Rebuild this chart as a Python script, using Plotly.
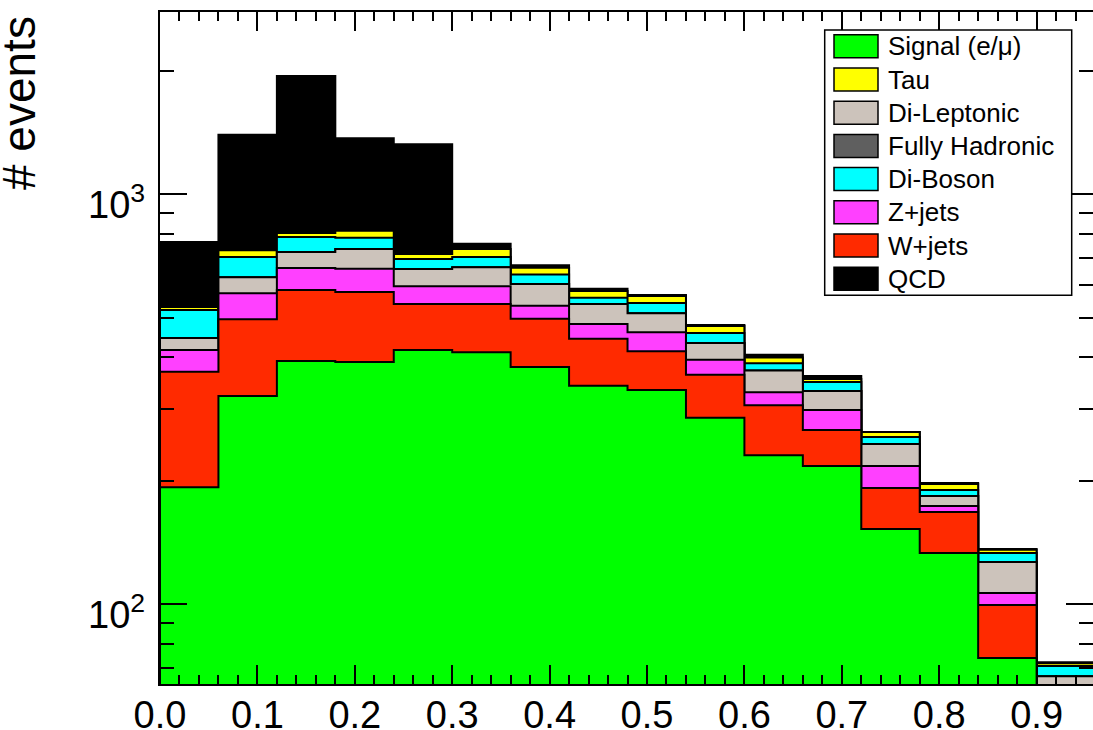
import math
import plotly.graph_objects as go

# ---------------- data ----------------
bin_edges = [round(0.06 * i, 2) for i in range(17)]  # 16 bins, width 0.06

signal  = [193, 322, 392, 390, 417, 412, 379, 341, 333, 285, 231, 217.5, 152.6, 133.4, 74, 40]
wjets   = [176, 174, 192, 188, 123, 128, 118, 103, 81, 78, 75, 48.6, 39.5, 34.6, 25.6, 12]
zjets   = [48, 78, 77, 80, 57, 57, 38, 39, 47, 32, 23, 31.7, 25.4, 5.7, 7, 6]
dilep   = [29, 54, 62, 78, 60, 67, 69, 57, 52, 39, 43, 33.5, 28.4, 10, 20.2, 8.8]
fullhad = [0, 0, 0, 0, 0, 0, 0, 0, 0, 0, 0, 0, 0, 0, 0, 0]
diboson = [76, 75, 64, 47, 38, 39, 33, 19, 30, 25, 15, 17, 9.9, 6.3, 6.6, 3.9]
tau     = [9, 27, 18, 32, 20, 32, 25, 22, 22, 18, 13, 6, 7.2, 6.5, 2.5, 1.1]
qcd     = [234, 667, 1138, 555, 609, 22, 9, 7, 3, 3, 6, 6, 0.3, 1, 0.5, 0.4]

x_tick_vals = [0.0, 0.1, 0.2, 0.3, 0.4, 0.5, 0.6, 0.7, 0.8, 0.9]
x_tick_text = ["0.0", "0.1", "0.2", "0.3", "0.4", "0.5", "0.6", "0.7", "0.8", "0.9"]
y_tick_vals = [100, 1000]
y_tick_text = ["10<sup>2</sup>", "10<sup>3</sup>"]

# stack order (bottom -> top)
stack = [
    ("Signal (e/μ)", signal, "#00ff00"),
    ("W+jets", wjets, "#ff2a00"),
    ("Z+jets", zjets, "#ff40ff"),
    ("Di-Leptonic", dilep, "#ccc3bb"),
    ("Fully Hadronic", fullhad, "#5f5f5f"),
    ("Di-Boson", diboson, "#00ffff"),
    ("Tau", tau, "#ffff00"),
    ("QCD", qcd, "#000000"),
]
legend_order = ["Signal (e/μ)", "Tau", "Di-Leptonic", "Fully Hadronic",
                "Di-Boson", "Z+jets", "W+jets", "QCD"]
colors = {n: c for n, _, c in stack}

# ---------------- geometry (window pixels) ----------------
W, H = 1093, 730
PLOT_L, PLOT_T, PLOT_B, PLOT_R = 160, 12, 684, 1093
ML, MT, MB, MR = PLOT_L, PLOT_T, H - PLOT_B, W - PLOT_R
PW = PLOT_R - PLOT_L
PH = PLOT_B - PLOT_T
PX_PER_UNIT = 974.0
x_max = PW / PX_PER_UNIT
decade = 410.0
y_top = 3 + (194.3 - PLOT_T) / decade
y_bot = y_top - PH / decade
FLOOR = 1.0
FONT = "Liberation Sans, Arial, Helvetica, sans-serif"

def px(xp):
    return (xp - PLOT_L) / PW

def py(yp):
    return (PLOT_B - yp) / PH

fig = go.Figure()

# cumulative sums
cums = []
running = [0.0] * len(signal)
for name, vals, col in stack:
    running = [r + v for r, v in zip(running, vals)]
    cums.append((name, list(running), col))

# draw from top of stack down (overlay like THStack)
for name, cum, col in reversed(cums):
    xs = [bin_edges[0]]
    ys = [FLOOR]
    for i, c in enumerate(cum):
        xs += [bin_edges[i], bin_edges[i + 1]]
        ys += [c, c]
    xs += [bin_edges[-1], bin_edges[0]]
    ys += [FLOOR, FLOOR]
    fig.add_trace(go.Scatter(
        x=xs, y=ys, mode="lines", fill="toself", fillcolor=col,
        line=dict(color="#000000", width=2), name=name,
        showlegend=False, hoverinfo="skip",
    ))

minor_x = [round(0.02 * i, 2) for i in range(49) if i % 5 != 0 and 0.02 * i <= x_max]
minor_y = [60, 70, 80, 90, 200, 300, 400, 500, 600, 700, 800, 900, 2000]

fig.update_layout(
    template="none",
    width=W, height=H,
    margin=dict(l=ML, r=MR, t=MT, b=MB, pad=0, autoexpand=False),
    paper_bgcolor="white", plot_bgcolor="white",
    showlegend=False,
    font=dict(family=FONT, color="black"),
    xaxis=dict(
        automargin=False,
        range=[0, x_max], showgrid=False, zeroline=False,
        showline=True, linewidth=2, linecolor="black", mirror="allticks",
        ticks="inside", ticklen=19, tickwidth=2, tickcolor="black",
        tickmode="array", tickvals=x_tick_vals, ticktext=x_tick_text,
        tickfont=dict(size=38, family=FONT), ticklabelstandoff=-4,
        minor=dict(tickmode="array", tickvals=minor_x, ticks="inside",
                   ticklen=9, tickwidth=2, tickcolor="black", showgrid=False),
    ),
    yaxis=dict(
        automargin=False,
        type="log", range=[y_bot, y_top], showgrid=False, zeroline=False,
        showline=True, linewidth=2, linecolor="black", mirror="allticks",
        ticks="inside", ticklen=27, tickwidth=2, tickcolor="black",
        tickmode="array", tickvals=y_tick_vals, showticklabels=False,
        minor=dict(tickmode="array", tickvals=minor_y, ticks="inside",
                   ticklen=14, tickwidth=2, tickcolor="black", showgrid=False),
    ),
)

# y tick labels (ROOT places the 10^n group slightly below the tick)
for v, t in zip(y_tick_vals, y_tick_text):
    fig.add_annotation(
        text=t, showarrow=False, xref="paper", yref="y",
        x=px(147), y=math.log10(v), xanchor="right", yanchor="middle",
        yshift=-8, font=dict(size=38, family=FONT, color="black"),
    )

# y-axis title at top-left (ROOT style)
fig.add_annotation(
    text="# events", textangle=-90, showarrow=False,
    xref="paper", yref="paper", x=px(19), y=py(103),
    xanchor="center", yanchor="middle",
    font=dict(size=46, family=FONT, color="black"),
)

# manual legend (ROOT TLegend look)
LX0, LX1, LY0, LY1 = 824.7, 1071.7, 30, 295.3
fig.add_shape(type="rect", xref="paper", yref="paper",
              x0=px(LX0), x1=px(LX1), y0=py(LY1), y1=py(LY0),
              line=dict(color="black", width=1.5), fillcolor="white", layer="above")
for k, name in enumerate(legend_order):
    cy = 46.3 + k * 33.2
    fig.add_shape(type="rect", xref="paper", yref="paper",
                  x0=px(834), x1=px(878), y0=py(cy + 11.5), y1=py(cy - 11.5),
                  line=dict(color="black", width=1.5), fillcolor=colors[name],
                  layer="above")
    fig.add_annotation(text=name, showarrow=False, xref="paper", yref="paper",
                       x=px(886), y=py(cy), xanchor="left", yanchor="middle",
                       font=dict(size=26, family=FONT, color="black"))

fig.write_html(
    "out.html",
    config={"displayModeBar": False},
    post_script="document.body.style.margin='0';document.body.style.overflow='hidden';",
)
